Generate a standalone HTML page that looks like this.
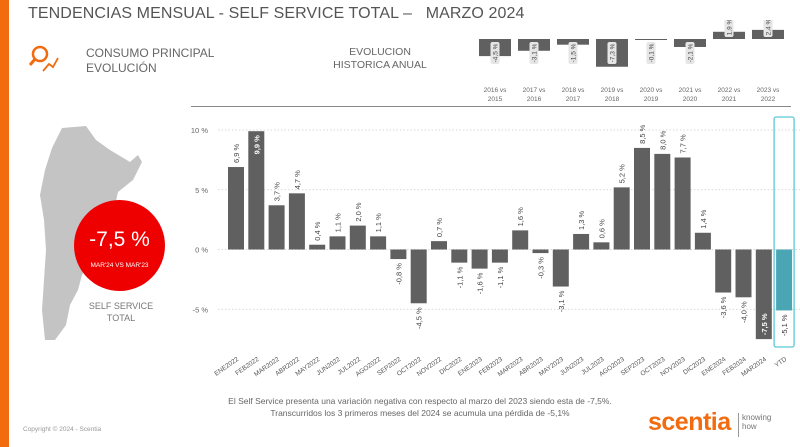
<!DOCTYPE html>
<html><head><meta charset="utf-8"><style>
body{margin:0;width:800px;height:447px;overflow:hidden;background:#fff;font-family:"Liberation Sans",sans-serif;position:relative}
.abs{position:absolute}
</style></head><body>
<div class="abs" style="left:0;top:0;width:9px;height:447px;background:#f26b0f"></div>
<div class="abs" style="left:28px;top:5px;font-size:16px;color:#555;letter-spacing:0.1px">TENDENCIAS MENSUAL - SELF SERVICE TOTAL –&nbsp;&nbsp; MARZO 2024</div>
<svg class="abs" style="left:27px;top:44px" width="40" height="32" viewBox="0 0 40 32">
<circle cx="13" cy="10" r="7" fill="none" stroke="#f26b0f" stroke-width="2.5"/><line x1="8" y1="15" x2="3" y2="21" stroke="#f26b0f" stroke-width="3"/>
<polyline points="16,27 22,20 26,23 31,14" fill="none" stroke="#f26b0f" stroke-width="1.8"/></svg>
<div class="abs" style="left:86px;top:46px;font-size:12px;color:#666;line-height:15px">CONSUMO PRINCIPAL<br>EVOLUCIÓN</div>
<div class="abs" style="left:320px;top:46px;width:120px;text-align:center;font-size:10.5px;color:#666;line-height:13px">EVOLUCION<br>HISTORICA ANUAL</div>
<div class="abs" style="left:191px;top:106px;width:600px;height:1px;background:#888"></div>

<svg class="abs" style="left:0;top:110px" width="200" height="230" viewBox="0 0 200 230">
<path d="M62,18 L86,16 L96,30 L110,40 L130,52 L138,45 L142,52 L133,70 L118,82 L114,100 L106,125 L90,150 L82,165 L78,180 L70,195 L66,215 L55,230 L45,230 L42,200 L44,170 L46,140 L44,110 L40,85 L45,60 L52,38 Z" fill="#c4c4c4"/>
</svg>
<div class="abs" style="left:74px;top:200px;width:91px;height:91px;border-radius:50%;background:#ee0000;color:#fff;text-align:center">
<div style="font-size:21px;margin-top:28px">-7,5 %</div>
<div style="font-size:6.5px;margin-top:10px">MAR'24 VS MAR'23</div></div>
<div class="abs" style="left:80px;top:300px;width:82px;text-align:center;font-size:9px;color:#777;line-height:12px">SELF SERVICE<br>TOTAL</div>

<svg class="abs" id="annual" style="left:470px;top:20px" width="330" height="86"></svg>
<svg class="abs" id="main" style="left:0;top:0" width="800" height="447"></svg>

<div class="abs" style="left:150px;top:395px;width:540px;text-align:center;font-size:8.5px;color:#666;line-height:12px">El Self Service presenta una variación negativa con respecto al marzo del 2023 siendo esta de -7,5%.<br>Transcurridos los 3 primeros meses del 2024 se acumula una pérdida de -5,1%</div>
<div class="abs" style="left:23px;top:426px;font-size:6.5px;color:#999">Copyright © 2024 - Scentia</div>
<div class="abs" style="left:648px;top:408px;font-size:25px;font-weight:bold;color:#f26b0f;letter-spacing:-0.5px">scentia</div>
<div class="abs" style="left:738px;top:413px;width:1px;height:24px;background:#999"></div>
<div class="abs" style="left:742px;top:413px;font-size:8px;color:#777;line-height:9px">knowing<br>how</div>

<script>
const NS="http://www.w3.org/2000/svg";
function mk(p,t,a){const e=document.createElementNS(NS,t);for(const k in a)e.setAttribute(k,a[k]);p.appendChild(e);return e;}
// annual
const yearLabels=["2016 vs|2015","2017 vs|2016","2018 vs|2017","2019 vs|2018","2020 vs|2019","2021 vs|2020","2022 vs|2021","2023 vs|2022"];
const yearValues=[-4.5,-3.1,-1.5,-7.3,-0.1,-2.1,1.9,2.4];
const A=document.getElementById('annual');
const ay=v=>19-v*3.8;
yearValues.forEach((v,i)=>{
 const cx=25+i*39;
 const r=mk(A,'rect',{x:cx-16,y:Math.min(ay(v),ay(0)),width:32,height:Math.max(Math.abs(ay(v)-ay(0)),1),fill:'#606060'});
 
 
 const txt=(v.toFixed(1).replace('.',','))+' %';
 const ly=v<0?ay(0)+3:ay(0)-22; const lh=v<0?22:20;
 const bg=mk(A,'rect',{x:cx-4.5,y:ly,width:9,height:lh,rx:2,fill:'#e6e6e6'});
 
 
 const t=mk(A,'text',{x:0,y:0,transform:`translate(${cx+2.5},${ly+lh/2}) rotate(-90)`,'text-anchor':'middle','font-size':6.5,fill:'#444'});
 t.textContent=txt;
 
 
 yearLabels[i].split('|').forEach((s,j)=>{const l=mk(A,'text',{x:cx,y:72+j*9,'text-anchor':'middle','font-size':6.5,fill:'#666'});l.textContent=s;
  
  });
});
// monthly
const months=["ENE2022","FEB2022","MAR2022","ABR2022","MAY2022","JUN2022","JUL2022","AGO2022","SEP2022","OCT2022","NOV2022","DIC2022","ENE2023","FEB2023","MAR2023","ABR2023","MAY2023","JUN2023","JUL2023","AGO2023","SEP2023","OCT2023","NOV2023","DIC2023","ENE2024","FEB2024","MAR2024","YTD"];
const values=[6.9,9.9,3.7,4.7,0.4,1.1,2.0,1.1,-0.8,-4.5,0.7,-1.1,-1.6,-1.1,1.6,-0.3,-3.1,1.3,0.6,5.2,8.5,8.0,7.7,1.4,-3.6,-4.0,-7.5,-5.1];
const ticks=[10,5,0,-5];
const M=document.getElementById('main');
const y=v=>249.5-v*11.95;
const x=i=>236+i*20.3;
ticks.forEach(t=>{
 const g=mk(M,'line',{x1:218,x2:800,y1:y(t),y2:y(t),stroke:'#ccc','stroke-dasharray':'1.5,2','stroke-width':0.8});
 
 
 const l=mk(M,'text',{x:208,y:y(t)+3,'text-anchor':'end','font-size':7.5,fill:'#666'});l.textContent=t+' %';
 
 
});
const yi=months.length-1;
const hl=mk(M,'rect',{x:x(yi)-10,y:117,width:20,height:230,rx:2,fill:'none',stroke:'#5cc8d8','stroke-width':1.3});


values.forEach((v,i)=>{
 const cx=x(i);
 const r=mk(M,'rect',{x:cx-8,y:Math.min(y(v),y(0)),width:16,height:Math.abs(y(v)-y(0)),fill:i==yi?'#4aa6b4':'#606060'});
 
 
 const txt=v.toFixed(1).replace('.',',')+' %';
 let inside=(v>9||v<-6.5);
 let lx,anchor,col='#444';
 if(inside){col='#fff';lx=v>0?y(v)+4:y(v)-4;anchor=v>0?'end':'start';}
 else{lx=v>=0?y(v)-4:y(v)+4;anchor=v>=0?'start':'end';}
 if(i==yi){col='#333';}
 const t=mk(M,'text',{transform:`translate(${cx+3},${lx}) rotate(-90)`,'text-anchor':anchor,'font-size':7.5,fill:col,'font-weight':inside?'bold':'normal'});
 t.textContent=txt;
 
 
 const m=mk(M,'text',{transform:`translate(${cx+3},${360}) rotate(-35)`,'text-anchor':'end','font-size':6.5,fill:'#555'});
 m.textContent=months[i];
 
 
});
</script>
</body></html>
